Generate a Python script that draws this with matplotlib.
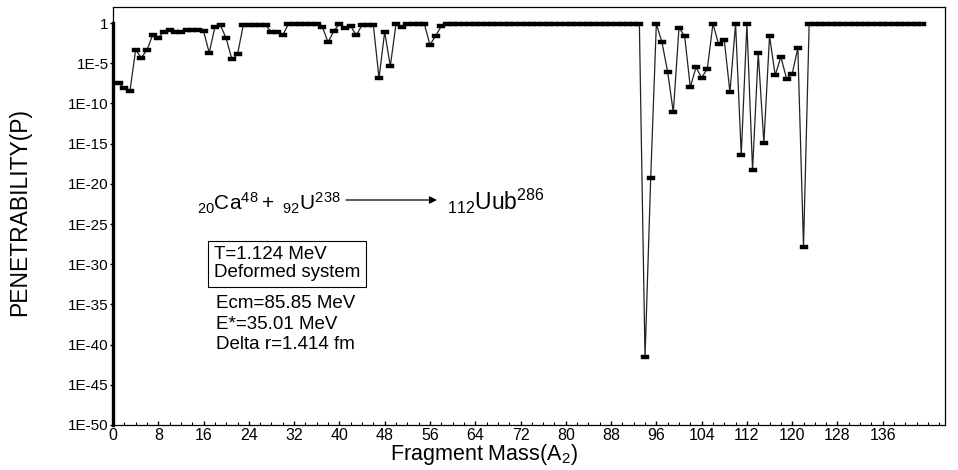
import numpy as np
import matplotlib
matplotlib.use('Agg')
import matplotlib.pyplot as plt
from matplotlib.ticker import FixedLocator, MultipleLocator

plt.rcParams['font.family'] = ['Liberation Sans', 'DejaVu Sans']
plt.rcParams['mathtext.fontset'] = 'custom'
plt.rcParams['mathtext.rm'] = 'Liberation Sans'
plt.rcParams['mathtext.it'] = 'Liberation Sans'

# fragment mass A2 and log10 of the penetrability
fragment_mass = np.arange(1, 144)
log_p = [
    -7.45, -8.1, -8.4, -3.35, -4.3, -3.35, -1.5, -1.8, -1.1, -0.9,      # 1-10
    -1.1, -1.1, -0.8, -0.8, -0.9, -1.0, -3.7, -0.5, -0.3, -1.9,         # 11-20
    -4.5, -3.9, -0.3, -0.3, -0.3, -0.3, -0.3, -1.1, -1.1, -1.5,         # 21-30
    -0.1, -0.1, -0.1, -0.1, -0.1, -0.1, -0.5, -2.4, -1.0, -0.1,         # 31-40
    -0.6, -0.4, -1.5, -0.25, -0.25, -0.25, -6.85, -1.1, -5.35, -0.1,    # 41-50
    -0.5, -0.1, -0.1, -0.1, -0.1, -2.7, -1.6, -0.4, -0.1, -0.1,         # 51-60
    -0.1, -0.1, -0.1, -0.1, -0.1, -0.1, -0.1, -0.1, -0.1, -0.1,         # 61-70
    -0.1, -0.1, -0.1, -0.1, -0.1, -0.1, -0.1, -0.1, -0.1, -0.1,         # 71-80
    -0.1, -0.1, -0.1, -0.1, -0.1, -0.1, -0.1, -0.1, -0.1, -0.1,         # 81-90
    -0.1, -0.1, -0.1, -41.6, -19.3, -0.1, -2.4, -6.1, -11.1, -0.6,      # 91-100
    -1.6, -8.0, -5.5, -6.8, -5.7, -0.1, -2.6, -2.1, -8.6, -0.1,         # 101-110
    -16.4, -0.1, -18.3, -3.7, -14.9, -1.6, -6.5, -4.2, -6.9, -6.3,      # 111-120
    -3.1, -27.8, -0.1, -0.1, -0.1, -0.1, -0.1, -0.1, -0.1, -0.1,        # 121-130
    -0.1, -0.1, -0.1, -0.1, -0.1, -0.1, -0.1, -0.1, -0.1, -0.1,         # 131-140
    -0.1, -0.1, -0.1,                                                   # 141-143
]
penetrability = 10.0 ** np.array(log_p)

x_ticks = list(range(0, 137, 8))
y_exponents = list(range(0, -51, -5))
y_tick_labels = ['1'] + ['1E%d' % e for e in y_exponents[1:]]

W, H = 958, 470
fig = plt.figure(figsize=(W / 100, H / 100), dpi=100)
ax = fig.add_axes([113 / W, 1 - 425 / H, (945 - 113) / W, (425 - 7) / H])

rect = [(-1.75, -1), (1.75, -1), (1.75, 1), (-1.75, 1), (-1.75, -1)]
ax.plot(fragment_mass, penetrability, color='#222222', lw=0.9,
        marker=rect, markersize=5.6, markerfacecolor='k', markeredgecolor='k',
        markeredgewidth=0.3)

ax.set_yscale('log')
ax.set_ylim(1e-50, 1e2)
ax.set_xlim(0, 147)

ax.yaxis.set_major_locator(FixedLocator([10.0 ** e for e in y_exponents]))
ax.set_yticklabels(y_tick_labels)
ax.yaxis.set_minor_locator(FixedLocator([]))
ax.set_xticks(x_ticks)
ax.xaxis.set_minor_locator(MultipleLocator(2))
ax.tick_params(axis='y', which='major', direction='out', length=2, width=1,
               labelsize=11, pad=1)
ax.tick_params(axis='x', which='major', direction='in', length=3, width=1,
               labelsize=11.5, pad=2)
ax.tick_params(axis='x', which='minor', direction='in', length=2, width=0.8)

for s in ['top', 'right', 'bottom']:
    ax.spines[s].set_linewidth(0.9)
ax.spines['left'].set_linewidth(2.4)
ax.spines['left'].set_bounds(1e-50, 1)
ax.vlines(0, 1, 1e2, color='k', lw=0.9, clip_on=False)

fig.text(484 / W, 1 - 460 / H, 'Fragment Mass(A$_2$)', fontsize=15.5,
         ha='center', va='baseline')
fig.text(20 / W, 1 - 212 / H, 'PENETRABILITY(P)', fontsize=16.5,
         rotation=90, ha='center', va='center')

# reaction label
fig.text(197 / W, 1 - 210 / H, r'$\mathrm{_{20}Ca^{48}+\ _{92}U^{238}}$',
         fontsize=15, va='baseline', ha='left')
fig.text(447 / W, 1 - 210 / H, r'$\mathrm{_{112}Uub^{286}}$',
         fontsize=16.5, va='baseline', ha='left')
ax.annotate('', xy=(437 / W, 1 - 200 / H), xytext=(346 / W, 1 - 200 / H),
            xycoords='figure fraction', textcoords='figure fraction',
            arrowprops=dict(arrowstyle='-|>', color='k', lw=0.9,
                            mutation_scale=11, shrinkA=0, shrinkB=0))

fig.text(214 / W, 1 - 277 / H, 'T=1.124 MeV\nDeformed system', fontsize=13.5,
         va='baseline', ha='left', linespacing=1.05,
         bbox=dict(boxstyle='square,pad=0.3', fc='white', ec='k', lw=0.8))

fig.text(216 / W, 1 - 349 / H, 'Ecm=85.85 MeV\nE*=35.01 MeV\nDelta r=1.414 fm',
         fontsize=13.5, va='baseline', ha='left', linespacing=1.25)

fig.savefig('out.png', dpi=100)
